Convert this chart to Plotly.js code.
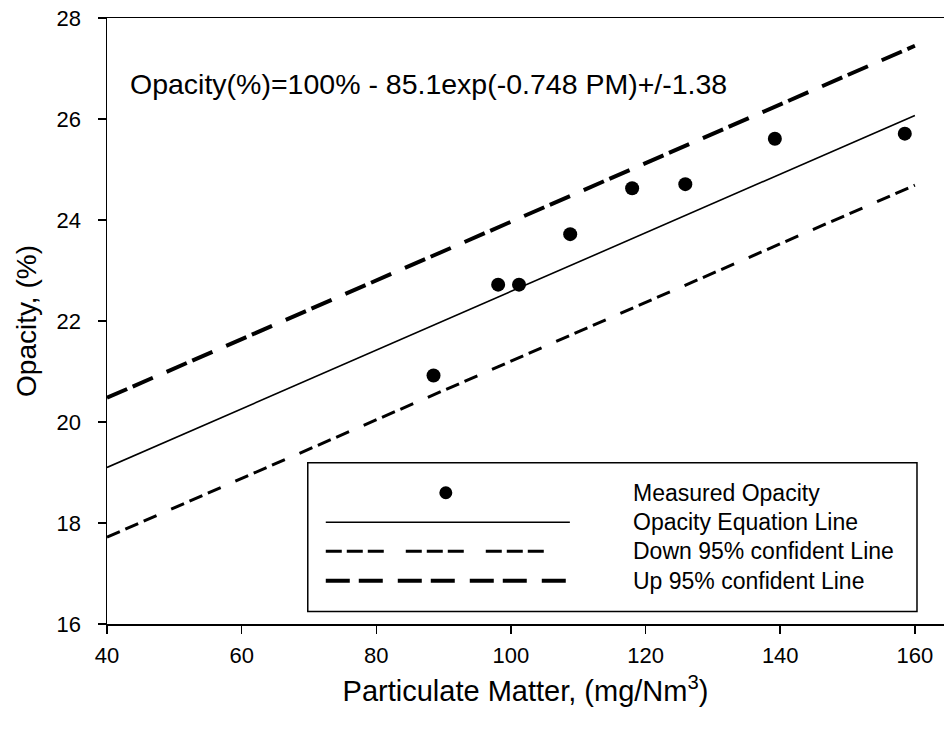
<!DOCTYPE html>
<html>
<head>
<meta charset="utf-8">
<script src="https://cdn.plot.ly/plotly-3.0.1.min.js"></script>
<style>
  html, body { margin: 0; padding: 0; background: #fff; }
  #chart { width: 944px; height: 733px; }
</style>
</head>
<body>
<div id="chart"></div>
<script>
// ---- data ----
const pmMeasured = [88.5, 98.1, 101.2, 108.8, 118.0, 125.9, 139.2, 158.5];
const opacityMeasured = [20.92, 22.72, 22.72, 23.72, 24.63, 24.71, 25.61, 25.71];

const lineX = [40, 160];
const equationLine = [19.10, 26.07];
const downLine = [17.72, 24.69];
const upLine = [20.48, 27.45];

const xTicks = [40, 60, 80, 100, 120, 140, 160];
const yTicks = [16, 18, 20, 22, 24, 26, 28];

const legendLabels = ["Measured Opacity", "Opacity Equation Line", "Down 95% confident Line", "Up 95% confident Line"];
const equationText = "Opacity(%)=100% - 85.1exp(-0.748 PM)+/-1.38";

// ---- layout geometry (pixels) ----
const W = 944, H = 733;
const L = 107.3, R = 0, T = 17.6, B = 733 - 624.4;
const plotW = W - L - R, plotH = H - T - B;
const px = x => (x - L) / plotW;
const py = y => 1 - (y - T) / plotH;

const FONT = "Liberation Sans, Arial, sans-serif";
const downDash = "14px,6px,14px,6px,14px,16px";
const upDash = "22px,6px,22px,15px";

const traces = [
  { x: lineX, y: equationLine, mode: "lines", line: { color: "#000", width: 1.6 }, showlegend: false, hoverinfo: "skip" },
  { x: lineX, y: downLine, mode: "lines", line: { color: "#000", width: 3, dash: downDash }, showlegend: false, hoverinfo: "skip" },
  { x: lineX, y: upLine, mode: "lines", line: { color: "#000", width: 4, dash: upDash }, showlegend: false, hoverinfo: "skip" },
  { x: pmMeasured, y: opacityMeasured, mode: "markers", marker: { color: "#000", size: 14 }, showlegend: false }
];

// legend drawn manually to mimic the reference box
const legBox = { x0: 308, x1: 917, y0: 463, y1: 612 };
const rowsY = [493, 522.5, 551.5, 581];
const sampleX0 = 326, sampleX1 = 570, textX = 631;

const shapes = [
  { type: "rect", xref: "paper", yref: "paper", x0: px(legBox.x0), x1: px(legBox.x1), y0: py(legBox.y1), y1: py(legBox.y0),
    line: { color: "#000", width: 1.5 }, fillcolor: "rgba(255,255,255,1)", layer: "above" },
  { type: "circle", xref: "paper", yref: "paper", x0: px(446 - 6.5), x1: px(446 + 6.5), y0: py(rowsY[0] + 6.5), y1: py(rowsY[0] - 6.5),
    line: { color: "#000", width: 0 }, fillcolor: "#000", layer: "above" },
  { type: "line", xref: "paper", yref: "paper", x0: px(sampleX0), x1: px(sampleX1), y0: py(rowsY[1]), y1: py(rowsY[1]),
    line: { color: "#000", width: 1.6 }, layer: "above" },
  { type: "line", xref: "paper", yref: "paper", x0: px(sampleX0), x1: px(555), y0: py(rowsY[2]), y1: py(rowsY[2]),
    line: { color: "#000", width: 3, dash: "16px,5px,16px,5px,16px,22px" }, layer: "above" },
  { type: "line", xref: "paper", yref: "paper", x0: px(sampleX0), x1: px(sampleX1), y0: py(rowsY[3]), y1: py(rowsY[3]),
    line: { color: "#000", width: 4, dash: "24px,9px,24px,15px" }, layer: "above" }
];

const annotations = legendLabels.map((t, i) => ({
  text: t, xref: "paper", yref: "paper", x: px(textX), y: py(rowsY[i]),
  xanchor: "left", yanchor: "middle", showarrow: false,
  font: { family: FONT, size: 23, color: "#000" }
}));
annotations.push({
  text: equationText, xref: "paper", yref: "paper", x: px(128), y: py(84),
  xanchor: "left", yanchor: "middle", showarrow: false,
  font: { family: FONT, size: 28.5, color: "#000" }
});

const layout = {
  width: W, height: H,
  margin: { l: L, r: R, t: T, b: B, pad: 0 },
  paper_bgcolor: "#fff", plot_bgcolor: "#fff",
  showlegend: false,
  font: { family: FONT, color: "#000" },
  xaxis: {
    range: [40, 40 + plotW / 6.73],
    tickvals: xTicks, ticktext: xTicks.map(String),
    ticks: "outside", ticklen: 8, tickwidth: 1.5, tickcolor: "#000",
    showline: true, linecolor: "#000", linewidth: 1.5, mirror: true,
    showgrid: false, zeroline: false,
    tickfont: { family: FONT, size: 22, color: "#000" },
    ticklabelstandoff: 3,
    title: { text: "Particulate Matter, (mg/Nm<sup>3</sup>)", font: { family: FONT, size: 29, color: "#000" }, standoff: 14 }
  },
  yaxis: {
    range: [16, 28],
    tickvals: yTicks, ticktext: yTicks.map(String),
    ticks: "outside", ticklen: 8, tickwidth: 1.5, tickcolor: "#000",
    showline: true, linecolor: "#000", linewidth: 1.5, mirror: false,
    showgrid: false, zeroline: false,
    tickfont: { family: FONT, size: 22, color: "#000" },
    ticklabelstandoff: 12,
    title: { text: "Opacity, (%)", font: { family: FONT, size: 28, color: "#000" }, standoff: 12 }
  },
  shapes: shapes,
  annotations: annotations
};

Plotly.newPlot("chart", traces, layout, { staticPlot: true, displayModeBar: false });
</script>
</body>
</html>
